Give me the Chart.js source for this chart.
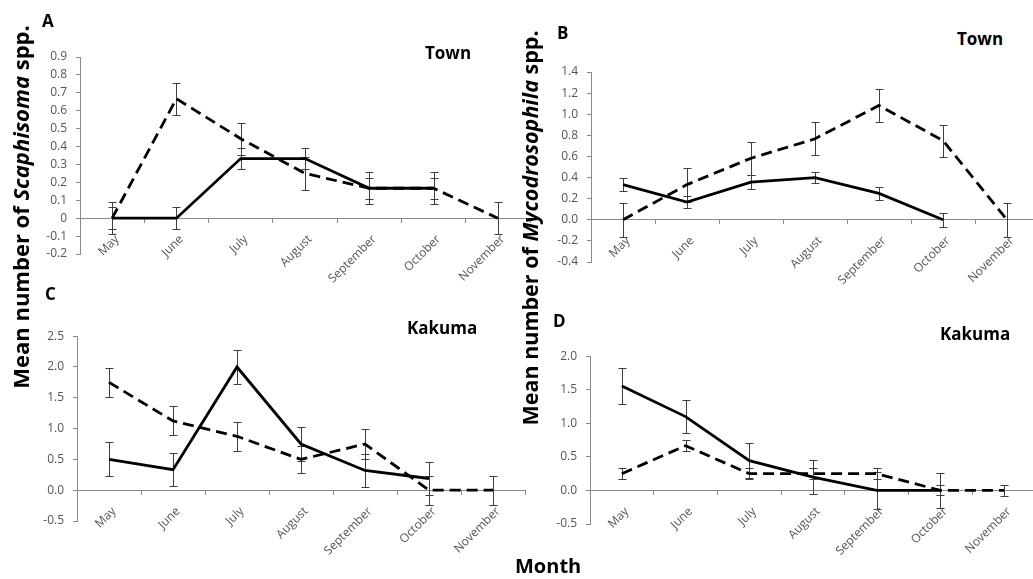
<!DOCTYPE html>
<html><head><meta charset="utf-8">
<script src="https://cdn.jsdelivr.net/npm/chart.js@4/dist/chart.umd.min.js"></script>
<style>
html,body{margin:0;padding:0;background:#fff;width:1033px;height:579px;overflow:hidden;position:relative;}
canvas{position:absolute;}
.t{position:absolute;font-family:"Open Sans",sans-serif;font-weight:bold;color:#000;line-height:1;white-space:nowrap;}
.yt{position:absolute;font-family:"Open Sans",sans-serif;font-weight:bold;line-height:1;white-space:nowrap;transform:translate(-50%,-50%) rotate(-90deg);}
</style></head><body>
<canvas id="cA"></canvas>
<canvas id="cB"></canvas>
<canvas id="cC"></canvas>
<canvas id="cD"></canvas>
<div class="yt" style="left:20px;top:207px;font-size:22px">Mean number of <i>Scaphisoma</i> spp.</div>
<div class="yt" style="left:530px;top:228px;font-size:21.5px">Mean number of <i>Mycodrosophila</i> spp.</div>
<div class="t" style="left:42px;top:12px;font-size:17px">A</div>
<div class="t" style="left:557px;top:24px;font-size:17px">B</div>
<div class="t" style="left:45px;top:285px;font-size:17px">C</div>
<div class="t" style="left:553px;top:312px;font-size:17px">D</div>
<div class="t" style="left:425px;top:44px;font-size:17px">Town</div>
<div class="t" style="left:957px;top:30px;font-size:17px">Town</div>
<div class="t" style="left:407px;top:319px;font-size:17px">Kakuma</div>
<div class="t" style="left:940px;top:325px;font-size:17px">Kakuma</div>
<div class="t" style="left:515px;top:556px;font-size:20px">Month</div>
<script>
// ---- data ----
const months = ['May','June','July','August','September','October','November'];

// A: Scaphisoma, Town
const scaphTownSolid     = [0, 0, 0.333, 0.333, 0.167, 0.167, null];
const scaphTownSolidErr  = [0.06, 0.06, 0.06, 0.06, 0.06, 0.06, null];
const scaphTownDashed    = [0, 0.667, 0.444, 0.25, 0.167, 0.167, 0];
const scaphTownDashedErr = [0.09, 0.09, 0.09, 0.09, 0.09, 0.09, 0.09];

// B: Mycodrosophila, Town
const mycoTownSolid     = [0.333, 0.167, 0.357, 0.4, 0.25, 0, null];
const mycoTownSolidErr  = [0.06, 0.06, 0.067, 0.055, 0.06, 0.065, null];
const mycoTownDashed    = [0, 0.333, 0.583, 0.767, 1.083, 0.75, 0];
const mycoTownDashedErr = [0.16, 0.16, 0.155, 0.155, 0.157, 0.152, 0.16];

// C: Scaphisoma, Kakuma
const scaphKakSolid     = [0.5, 0.333, 2.0, 0.75, 0.32, 0.19, null];
const scaphKakSolidErr  = [0.275, 0.27, 0.27, 0.27, 0.27, 0.27, null];
const scaphKakDashed    = [1.75, 1.125, 0.875, 0.5, 0.75, 0, 0];
const scaphKakDashedErr = [0.235, 0.235, 0.24, 0.225, 0.24, 0.235, 0.235];

// D: Mycodrosophila, Kakuma
const mycoKakSolid     = [1.556, 1.1, 0.444, 0.2, 0, 0, null];
const mycoKakSolidErr  = [0.265, 0.25, 0.26, 0.26, 0.27, 0.26, null];
const mycoKakDashed    = [0.25, 0.667, 0.25, 0.25, 0.25, 0, 0];
const mycoKakDashedErr = [0.08, 0.08, 0.08, 0.08, 0.08, 0.075, 0.08];

// y tick settings
const yTicksA = {min: -0.2, max: 0.9, step: 0.1};
const yTicksB = {min: -0.4, max: 1.4, step: 0.2};
const yTicksC = {min: -0.5, max: 2.5, step: 0.5};
const yTicksD = {min: -0.5, max: 2.0, step: 0.5};

const fmtGeneral = v => String(Math.round(v * 10) / 10 + 0);
const fmtOne = v => (Math.round(v * 10) / 10 + 0).toFixed(1);

const errorBars = {
  id: 'errorBars',
  beforeDatasetsDraw(chart) {
    const {ctx, scales: {x, y}} = chart;
    ctx.save();
    ctx.strokeStyle = '#3f3f3f';
    ctx.lineWidth = 1;
    chart.data.datasets.forEach(ds => {
      ds.data.forEach((v, i) => {
        const e = ds.errors[i];
        if (v == null || e == null) return;
        const px = Math.round(x.getPixelForValue(i)) + 0.5;
        const y1 = Math.round(y.getPixelForValue(v + e)) + 0.5;
        const y2 = Math.round(y.getPixelForValue(v - e)) + 0.5;
        ctx.beginPath();
        ctx.moveTo(px, y1); ctx.lineTo(px, y2);
        ctx.moveTo(px - 4, y1); ctx.lineTo(px + 4, y1);
        ctx.moveTo(px - 4, y2); ctx.lineTo(px + 4, y2);
        ctx.stroke();
      });
    });
    ctx.restore();
  }
};

const AXIS = '#8a8a8a';
const TICK = '#555555';
const tickFont = {family: 'Open Sans', size: 12};

function makePanel(id, box, area, yt, fmt, solid, solidErr, dashed, dashedErr) {
  const cv = document.getElementById(id);
  cv.style.left = box.left + 'px';
  cv.style.top = box.top + 'px';
  cv.width = box.width;
  cv.height = box.height;
  new Chart(cv, {
    type: 'line',
    data: {
      labels: months,
      datasets: [
        {data: dashed, errors: dashedErr, borderColor: '#000', borderWidth: 2.8, borderDash: [11, 6], pointRadius: 0, tension: 0, fill: false},
        {data: solid, errors: solidErr, borderColor: '#000', borderWidth: 2.8, pointRadius: 0, tension: 0, fill: false}
      ]
    },
    options: {
      responsive: false, animation: false, devicePixelRatio: 1,
      layout: {padding: {left: 0, top: area.top - box.top, right: box.left + box.width - area.right, bottom: box.top + box.height - area.bottom}},
      plugins: {legend: {display: false}, tooltip: {enabled: false}},
      scales: {
        x: {
          position: {y: 0},
          offset: true,
          grid: {offset: true, drawOnChartArea: false, drawTicks: true, tickLength: 4, color: AXIS},
          border: {display: true, color: AXIS, width: 1},
          ticks: {autoSkip: false, minRotation: 45, maxRotation: 45, color: TICK, font: tickFont, padding: 10, labelOffset: 5}
        },
        y: {
          min: yt.min, max: yt.max,
          ticks: {stepSize: yt.step, callback: fmt, color: TICK, font: tickFont, padding: 9},
          grid: {drawOnChartArea: false, drawTicks: true, tickLength: 4, color: AXIS},
          border: {display: true, color: AXIS, width: 1},
          afterFit: s => { s.width = area.left - box.left; }
        }
      }
    },
    plugins: [errorBars]
  });
}

makePanel('cA', {left: 30, top: 40, width: 510, height: 260}, {left: 80, right: 530, top: 57, bottom: 254},
  yTicksA, fmtGeneral, scaphTownSolid, scaphTownSolidErr, scaphTownDashed, scaphTownDashedErr);
makePanel('cB', {left: 545, top: 55, width: 500, height: 250}, {left: 591, right: 1039, top: 72, bottom: 262},
  yTicksB, fmtOne, mycoTownSolid, mycoTownSolidErr, mycoTownDashed, mycoTownDashedErr);
makePanel('cC', {left: 30, top: 320, width: 505, height: 255}, {left: 77, right: 525, top: 336, bottom: 521},
  yTicksC, fmtOne, scaphKakSolid, scaphKakSolidErr, scaphKakDashed, scaphKakDashedErr);
makePanel('cD', {left: 545, top: 340, width: 500, height: 235}, {left: 590, right: 1036, top: 356, bottom: 524},
  yTicksD, fmtOne, mycoKakSolid, mycoKakSolidErr, mycoKakDashed, mycoKakDashedErr);
</script>
</body></html>
